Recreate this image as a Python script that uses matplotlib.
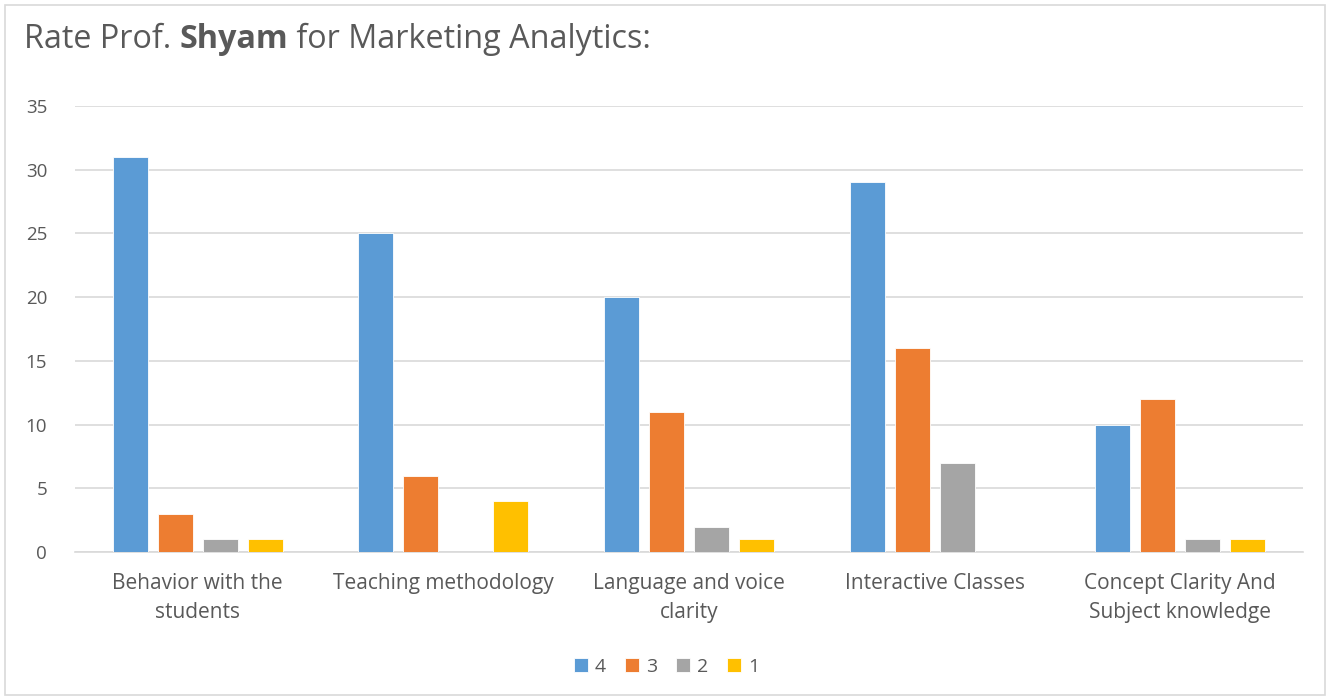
import matplotlib
matplotlib.use("Agg")
import matplotlib.pyplot as plt
import numpy as np
from matplotlib.patches import Rectangle

categories = ["Behavior with the\nstudents", "Teaching methodology", "Language and voice\nclarity",
              "Interactive Classes", "Concept Clarity And\nSubject knowledge"]
series_names = ["4", "3", "2", "1"]
s4 = [31, 25, 20, 29, 10]
s3 = [3, 6, 11, 16, 12]
s2 = [1, 0, 2, 7, 1]
s1 = [1, 4, 1, 0, 1]
series = [s4, s3, s2, s1]
colors = ["#5B9BD5", "#ED7D31", "#A5A5A5", "#FFC000"]

plt.rcParams['font.family'] = ['Open Sans', 'DejaVu Sans']
txt = "#595959"

fig = plt.figure(figsize=(13.33, 7.0), dpi=100)
fig.patches.append(Rectangle((5/1333, 5/700), 1320/1333, 690/700, transform=fig.transFigure,
                             fill=False, edgecolor="#D9D9D9", linewidth=1.2))
ax = fig.add_axes([75/1333, 1 - 552/700, (1303 - 75)/1333, (552 - 106)/700])

x = np.arange(len(categories))
step = 0.183
width = 0.1425
for i, (vals, c, name) in enumerate(zip(series, colors, series_names)):
    ax.bar(x + (i - 1.5) * step, vals, width=width, color=c, label=name, zorder=3,
           edgecolor="white", linewidth=0.6)

ax.set_xlim(-0.5, len(categories) - 0.5)
ax.set_ylim(0, 35)
ax.set_yticks(range(0, 36, 5))
ax.grid(axis="y", color="#D9D9D9", linewidth=1.2, zorder=0)
for s in ["top", "right", "left"]:
    ax.spines[s].set_visible(False)
ax.spines["bottom"].set_color("#D9D9D9")
ax.spines["bottom"].set_linewidth(1.2)
ax.tick_params(axis="y", length=0, labelsize=13.5, labelcolor=txt, pad=20)
ax.tick_params(axis="x", length=0, labelsize=15, labelcolor=txt, pad=15)
ax.set_xticks(x)
ax.set_xticklabels(categories, linespacing=1.5)

fs_t = 23.3
ty = 1 - 39/700
t1 = fig.text(24/1333, ty, "Rate Prof. ", fontsize=fs_t, color=txt, va="center", ha="left")
fig.canvas.draw()
r = fig.canvas.get_renderer()
bb = t1.get_window_extent(r)
t2 = fig.text(bb.x1 / fig.bbox.width, ty, "Shyam", fontsize=fs_t, color=txt, fontweight="bold",
              va="center", ha="left")
bb2 = t2.get_window_extent(r)
fig.text(bb2.x1 / fig.bbox.width, ty, " for Marketing Analytics:", fontsize=fs_t, color=txt,
         va="center", ha="left")

leg = fig.legend(loc="center", bbox_to_anchor=(0.5, 1 - 667/700), ncol=4, frameon=False,
                 fontsize=14, handlelength=0.7, handleheight=0.7, handletextpad=0.35, columnspacing=1.0)
for t in leg.get_texts():
    t.set_color(txt)

fig.savefig("out.png", dpi=100)
